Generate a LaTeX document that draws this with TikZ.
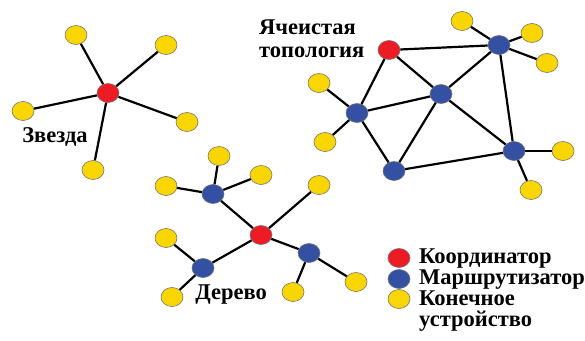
\documentclass[tikz,border=0pt]{standalone}
\usepackage{fontspec}
\setmainfont{Liberation Serif}
\newfontfamily\lblfont{Liberation Serif}
\usetikzlibrary{shapes.geometric}
\definecolor{cred}{HTML}{ED1C24}
\definecolor{cblue}{HTML}{3450A2}
\definecolor{cyel}{HTML}{FAD600}
\begin{document}
\begin{tikzpicture}[x=1pt,y=-1pt,
  dev/.style={ellipse,draw=black!55,line width=0.6pt,inner sep=0pt,minimum width=22pt,minimum height=19pt},
  yel/.style={dev,fill=cyel},
  blu/.style={dev,fill=cblue},
  rd/.style={dev,fill=cred},
  link/.style={line width=2.2pt,black},
  lbl/.style={font=\lblfont\bfseries\fontsize{22.5}{21}\selectfont,inner sep=0pt}]
\useasboundingbox (0,0) rectangle (585,340);
% Star
\node[rd] (s0) at (108,93) {};
\node[yel] (s1) at (76,35) {};
\node[yel] (s2) at (166,45) {};
\node[yel] (s3) at (23,111) {};
\node[yel] (s4) at (187,122) {};
\node[yel] (s5) at (93,170) {};
\foreach \i in {1,...,5} \draw[link] (s0) -- (s\i);
\node[lbl] (sl) at (55,137) {Звезда};
% Mesh
\node[rd] (m0) at (389,50) {};
\node[blu] (m1) at (499,45) {};
\node[blu] (m2) at (441,94) {};
\node[blu] (m3) at (357,113) {};
\node[blu] (m4) at (394,171) {};
\node[blu] (m5) at (514,151) {};
\node[yel] (y1) at (462,21) {};
\node[yel] (y2) at (532,33) {};
\node[yel] (y3) at (547,63) {};
\node[yel] (y4) at (319,83) {};
\node[yel] (y5) at (325,142) {};
\node[yel] (y6) at (563,151) {};
\node[yel] (y7) at (531,190) {};
\draw[link] (m0) -- (m1);
\draw[link] (m0) -- (m2);
\draw[link] (m0) -- (m3);
\draw[link] (m1) -- (m2);
\draw[link] (m1) -- (m5);
\draw[link] (m3) -- (m2);
\draw[link] (m3) -- (m4);
\draw[link] (m2) -- (m4);
\draw[link] (m2) -- (m5);
\draw[link] (m4) -- (m5);
\draw[link] (m1) -- (y1);
\draw[link] (m1) -- (y2);
\draw[link] (m1) -- (y3);
\draw[link] (m3) -- (y4);
\draw[link] (m3) -- (y5);
\draw[link] (m5) -- (y6);
\draw[link] (m5) -- (y7);
\node[lbl,anchor=west,align=left] (ml) at (259,38.5) {Ячеистая\\[2pt]топология};
% Tree
\node[rd] (t0) at (261,235) {};
\node[blu] (t1) at (213,194) {};
\node[blu] (t2) at (203,268) {};
\node[blu] (t3) at (309,253) {};
\node[yel] (u1) at (219,156) {};
\node[yel] (u2) at (166,186) {};
\node[yel] (u3) at (261,175) {};
\node[yel] (u4) at (319,185) {};
\node[yel] (u5) at (166,238) {};
\node[yel] (u6) at (172,297) {};
\node[yel] (u7) at (293,292) {};
\node[yel] (u8) at (356,282) {};
\draw[link] (t0) -- (t1);
\draw[link] (t0) -- (t2);
\draw[link] (t0) -- (t3);
\draw[link] (t0) -- (u4);
\draw[link] (t1) -- (u1);
\draw[link] (t1) -- (u2);
\draw[link] (t1) -- (u3);
\draw[link] (t2) -- (u5);
\draw[link] (t2) -- (u6);
\draw[link] (t3) -- (u7);
\draw[link] (t3) -- (u8);
\node[lbl] (tl) at (231,295) {Дерево};
% Legend
\node[rd] (k1) at (399,258) {};
\node[blu] (k2) at (399,279) {};
\node[yel] (k3) at (399,299) {};
\node[lbl,anchor=west,align=left] (kt) at (419,290) {Координатор\\Маршрутизатор\\Конечное\\устройство};
\end{tikzpicture}
\end{document}
